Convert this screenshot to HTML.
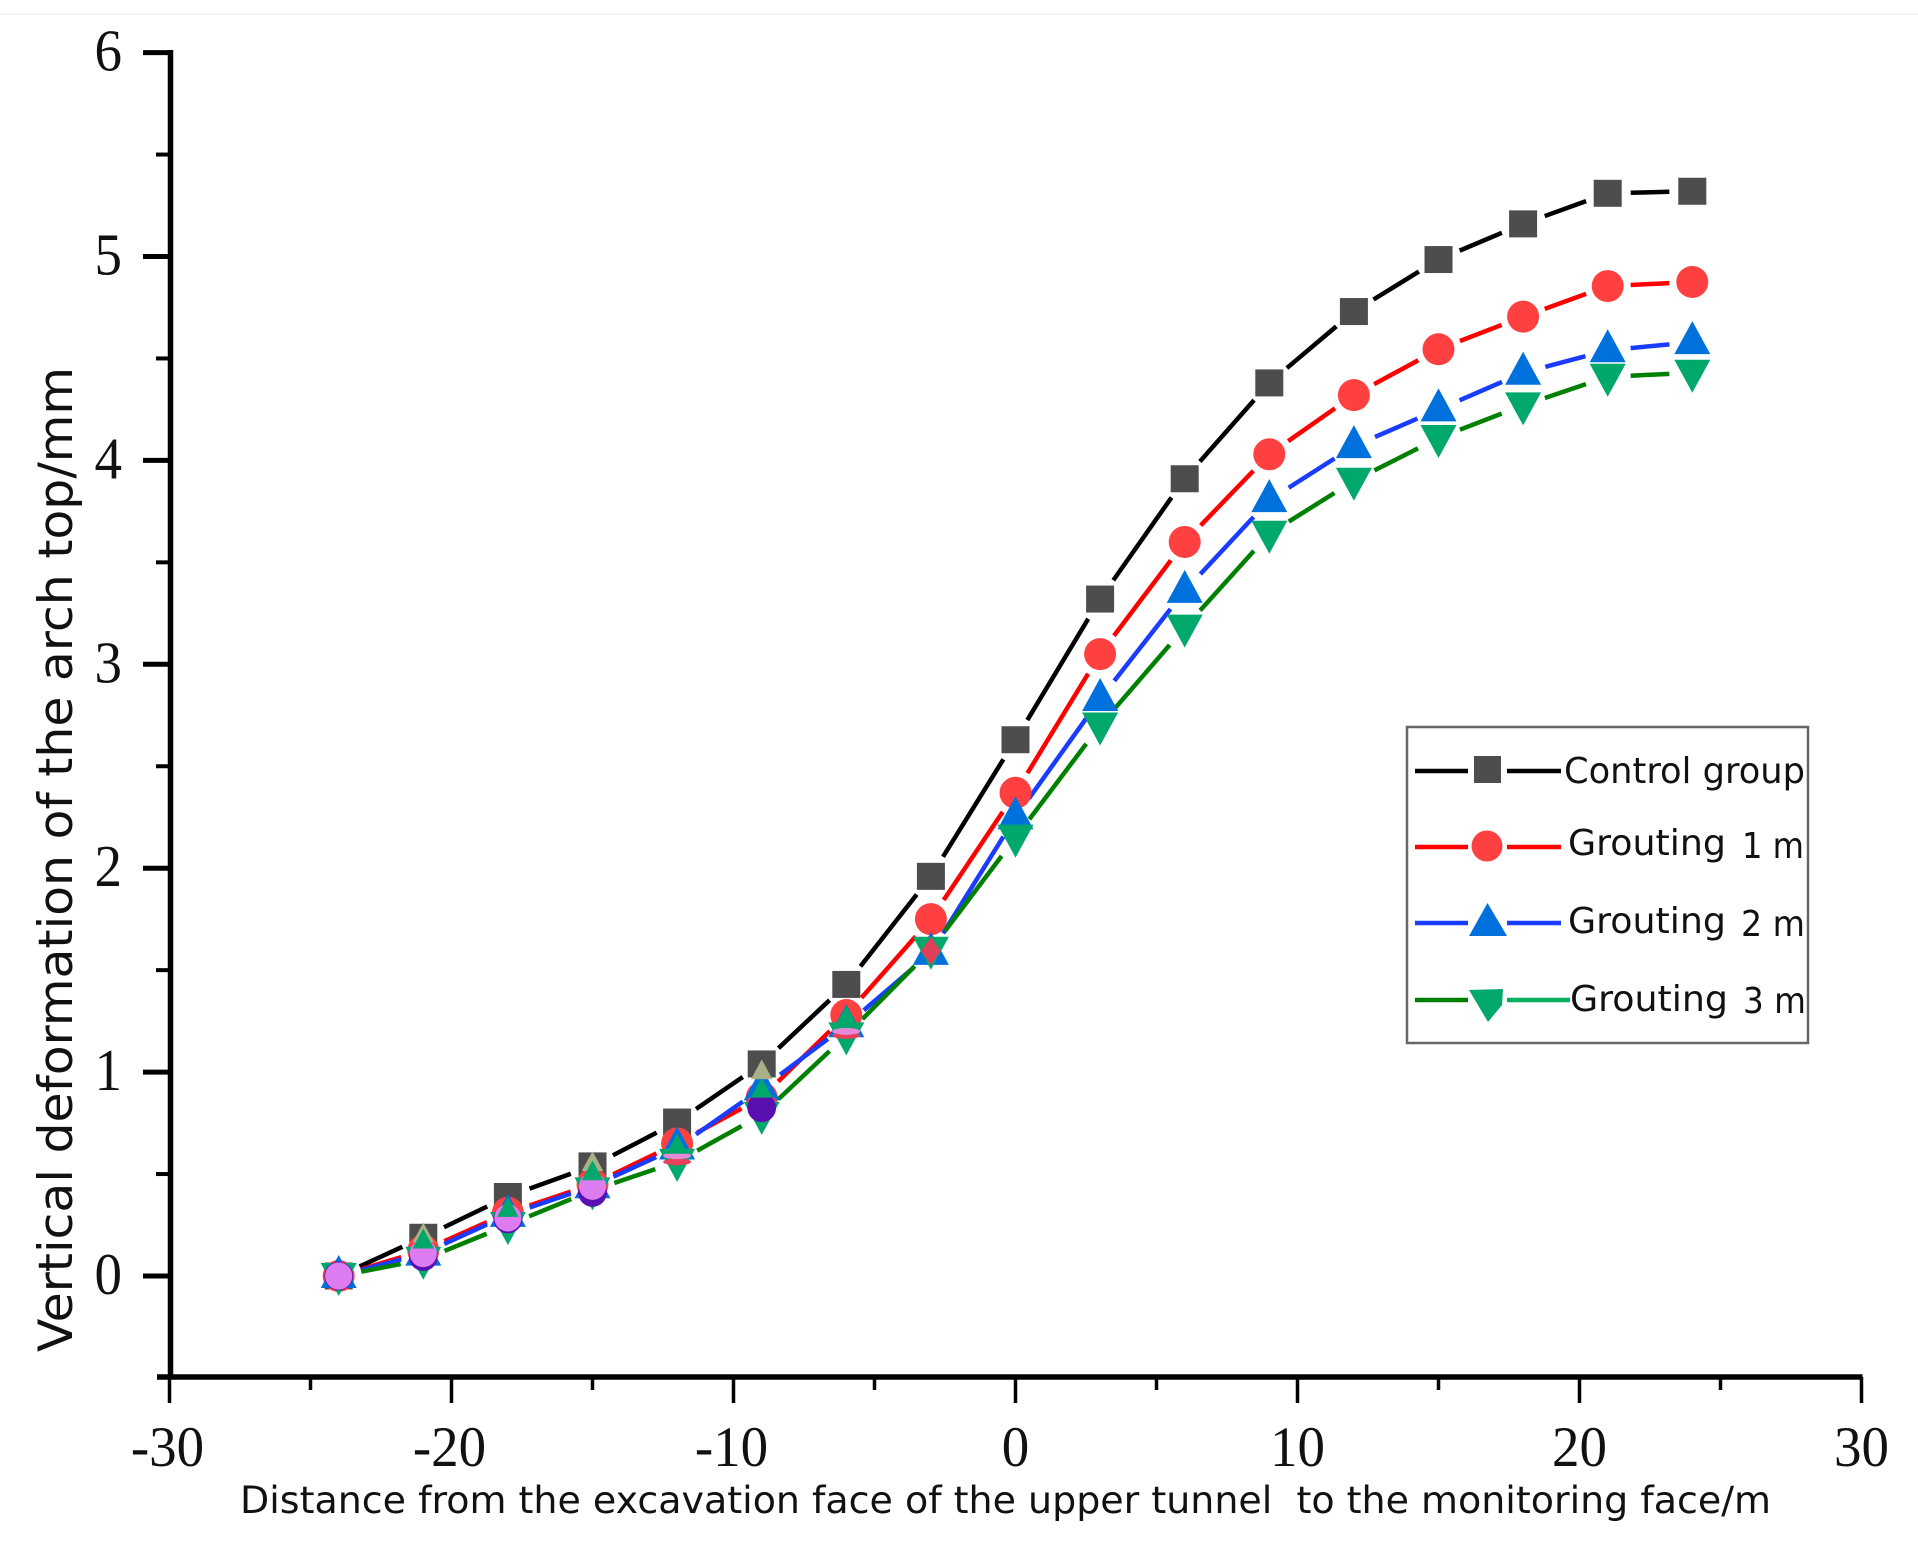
<!DOCTYPE html>
<html lang="en">
<head>
<meta charset="utf-8">
<title>Vertical deformation of the arch top</title>
<style>
html,body{margin:0;padding:0;background:#fff;}
svg{display:block;}
text{white-space:pre;}
.tick{font-family:"Liberation Serif",serif;font-size:55px;fill:#111;}
.title{font-family:"DejaVu Sans",sans-serif;fill:#111;}
</style>
</head>
<body>
<svg id="chart" xmlns="http://www.w3.org/2000/svg" width="1918" height="1547" viewBox="0 0 1918 1547">
  <rect x="0" y="0" width="1918" height="1547" fill="#ffffff"/>
  <line x1="0" y1="14" x2="1918" y2="14" stroke="#f2f2f2" stroke-width="2"/>
  <g id="axes"></g>
  <g id="series"></g>
  <g id="overlay"></g>
  <text class="title" font-size="47" transform="translate(72,1352) rotate(-90)" textLength="985" lengthAdjust="spacingAndGlyphs">Vertical deformation of the arch top/mm</text>
  <text class="title" font-size="37" x="240" y="1513" textLength="1531" lengthAdjust="spacingAndGlyphs">Distance from the excavation face of the upper tunnel  to the monitoring face/m</text>
  <g>
    <rect x="1407" y="727" width="401" height="316" fill="#ffffff" stroke="#666666" stroke-width="2.5"/>
    <g>
      <line x1="1415" y1="771" x2="1468" y2="771" stroke="#000000" stroke-width="4.5"/>
      <line x1="1507" y1="771" x2="1561" y2="771" stroke="#000000" stroke-width="4.5"/>
      <rect x="1474" y="756" width="27" height="27" fill="#4d4d4d"/>
      <text class="title" font-size="36" x="1564" y="783" textLength="241" lengthAdjust="spacingAndGlyphs">Control group</text>
    </g>
    <g>
      <line x1="1415" y1="847" x2="1468" y2="847" stroke="#ff0000" stroke-width="4.5"/>
      <line x1="1507" y1="847" x2="1561" y2="847" stroke="#ff0000" stroke-width="4.5"/>
      <circle cx="1487" cy="846" r="15.5" fill="#ff4040"/>
      <text class="title" font-size="36" x="1568" y="855" textLength="158" lengthAdjust="spacingAndGlyphs">Grouting</text>
      <text class="title" font-size="36" x="1742" y="858" textLength="62" lengthAdjust="spacingAndGlyphs">1 m</text>
    </g>
    <g>
      <line x1="1415" y1="923" x2="1468" y2="923" stroke="#1a3cff" stroke-width="4.5"/>
      <line x1="1507" y1="923" x2="1561" y2="923" stroke="#1a3cff" stroke-width="4.5"/>
      <polygon points="1487.5,903 1507,936 1469,936" fill="#0070dd"/>
      <text class="title" font-size="36" x="1568" y="933" textLength="158" lengthAdjust="spacingAndGlyphs">Grouting</text>
      <text class="title" font-size="36" x="1741" y="936" textLength="64" lengthAdjust="spacingAndGlyphs">2 m</text>
    </g>
    <g>
      <line x1="1415" y1="1000" x2="1468" y2="1000" stroke="#008000" stroke-width="4.5"/>
      <line x1="1507" y1="1000" x2="1570" y2="1000" stroke="#00b060" stroke-width="4.5"/>
      <polygon points="1469,990 1503,989 1502,1005 1488,1022" fill="#00a86b"/>
      <text class="title" font-size="36" x="1570" y="1011" textLength="158" lengthAdjust="spacingAndGlyphs">Grouting</text>
      <text class="title" font-size="36" x="1743" y="1013" textLength="63" lengthAdjust="spacingAndGlyphs">3 m</text>
    </g>
  </g>
</svg>
<script>
// Chart data
const xCategories = [-24,-21,-18,-15,-12,-9,-6,-3,0,3,6,9,12,15,18,21,24];
const controlGroup = [0,0.19,0.39,0.54,0.755,1.04,1.43,1.96,2.63,3.32,3.91,4.38,4.73,4.985,5.16,5.31,5.32];
const grouting1m = [0,0.125,0.31,0.45,0.65,0.875,1.28,1.75,2.37,3.05,3.6,4.03,4.32,4.545,4.705,4.855,4.875];
const grouting2m = [0,0.11,0.3,0.44,0.63,0.92,1.23,1.585,2.25,2.83,3.36,3.805,4.07,4.25,4.43,4.54,4.58];
const grouting3m = [0,0.08,0.25,0.42,0.56,0.79,1.18,1.6,2.15,2.7,3.18,3.64,3.9,4.11,4.27,4.41,4.43];
const overlayGreen = [null,0.17,0.325,0.505,0.635,0.91,1.265,null,null,null,null,null,null,null,null,null,null];
const overlayTan = [null,0.2,null,0.55,null,1.0,null,null,null,null,null,null,null,null,null,null,null];
const overlayIndigo = [0,0.095,0.28,0.41,null,0.825,null,null,null,null,null,null,null,null,null,null,null];
const overlayViolet = [0,0.11,0.285,0.44,null,null,null,null,null,null,null,null,null,null,null,null,null];
const overlayPink = [null,null,null,null,0.59,null,1.2,null,null,null,null,null,null,null,null,null,null];
const overlayRedBand = [null,null,null,null,0.56,0.865,1.18,null,null,null,null,null,null,null,null,null,null];
const overlayDiamond = [null,null,null,null,null,null,null,1.594,null,null,null,null,null,null,null,null,null];
const xMajorTicks = [-30,-20,-10,0,10,20,30];
const xMinorTicks = [-25,-15,-5,5,15,25];
const yMajorTicks = [0,1,2,3,4,5,6];
const yMinorTicks = [0.5,1.5,2.5,3.5,4.5,5.5];

const NS = 'http://www.w3.org/2000/svg';
const xScale = v => 1015.5 + 28.2 * v;
const yScale = v => 1276 - 203.9 * v;
const axes = document.getElementById('axes');
const seriesLayer = document.getElementById('series');
const overlayLayer = document.getElementById('overlay');

function lineEl(parent, name, x1, y1, x2, y2, color, width) {
  const el = document.createElementNS(NS, 'line');
  
  
  el.setAttribute('x1', x1);
  el.setAttribute('y1', y1);
  el.setAttribute('x2', x2);
  el.setAttribute('y2', y2);
  el.setAttribute('stroke', color);
  el.setAttribute('stroke-width', width);
  parent.appendChild(el);
  return el;
}

function tickLabel(name, x, y, anchor, value, stretch) {
  const el = document.createElementNS(NS, 'text');
  
  
  el.setAttribute('class', 'tick');
  el.setAttribute('transform', 'translate(' + x + ',' + y + ') scale(1,' + stretch + ')');
  el.setAttribute('text-anchor', anchor);
  el.textContent = String(value);
  axes.appendChild(el);
}

function marker(parent, name, type, cx, cy, color, k) {
  const s = k === undefined ? 1 : k;
  let el;
  if (type === 'square') {
    el = document.createElementNS(NS, 'rect');
    el.setAttribute('x', cx - 14);
    el.setAttribute('y', cy - 13.5);
    el.setAttribute('width', 28);
    el.setAttribute('height', 27);
  } else if (type === 'circle') {
    el = document.createElementNS(NS, 'ellipse');
    el.setAttribute('cx', cx);
    el.setAttribute('cy', cy);
    el.setAttribute('rx', 16 * s);
    el.setAttribute('ry', 16 * s);
  } else if (type === 'band') {
    el = document.createElementNS(NS, 'ellipse');
    el.setAttribute('cx', cx);
    el.setAttribute('cy', cy);
    el.setAttribute('rx', 14);
    el.setAttribute('ry', 3.5);
  } else if (type === 'diamond') {
    el = document.createElementNS(NS, 'polygon');
    el.setAttribute('points', cx + ',' + (cy - 14) + ' ' + (cx + 10) + ',' + cy + ' ' + cx + ',' + (cy + 14) + ' ' + (cx - 10) + ',' + cy);
  } else {
    const a = type === 'up' ? -21 * s : 20 * s;
    const b = type === 'up' ? 12 * s : -13 * s;
    const w = 18 * s;
    el = document.createElementNS(NS, 'polygon');
    el.setAttribute('points', cx + ',' + (cy + a) + ' ' + (cx + w) + ',' + (cy + b) + ' ' + (cx - w) + ',' + (cy + b));
  }
  
  
  el.setAttribute('fill', color);
  parent.appendChild(el);
}

// Axes
lineEl(axes, 'y-axis-line', 170.5, 50, 170.5, 1379, '#000000', 5.5);
lineEl(axes, 'x-axis-line', 157, 1377, 1862.5, 1377, '#000000', 5.5);
xMajorTicks.forEach(v => {
  lineEl(axes, 'x-major-tick', xScale(v), 1377, xScale(v), 1403, '#000000', 3.5);
  tickLabel('x-tick-label', xScale(v) - (v < 0 ? 2 : 0), 1466, 'middle', v, 1.04);
});
xMinorTicks.forEach(v => {
  lineEl(axes, 'x-minor-tick', xScale(v), 1377, xScale(v), 1390, '#000000', 3.5);
});
yMajorTicks.forEach(v => {
  lineEl(axes, 'y-major-tick', 143, yScale(v), 172, yScale(v), '#000000', 5);
  tickLabel('y-tick-label', 122, yScale(v) + 18, 'end', v, 1.08);
});
yMinorTicks.forEach(v => {
  lineEl(axes, 'y-minor-tick', 156, yScale(v), 172, yScale(v), '#000000', 4);
});

// Series: line segments broken around each symbol
const seriesList = [
  { name: 'control-group', values: controlGroup, line: '#000000', fill: '#4d4d4d', type: 'square' },
  { name: 'grouting-1m', values: grouting1m, line: '#ff0000', fill: '#ff4040', type: 'circle' },
  { name: 'grouting-2m', values: grouting2m, line: '#1a3cff', fill: '#0070dd', type: 'up' },
  { name: 'grouting-3m', values: grouting3m, line: '#008000', fill: '#00a86b', type: 'down' }
];
const GAP = 23;
seriesList.forEach(s => {
  for (let i = 0; i < xCategories.length - 1; i++) {
    const x1 = xScale(xCategories[i]), y1 = yScale(s.values[i]);
    const x2 = xScale(xCategories[i + 1]), y2 = yScale(s.values[i + 1]);
    const d = Math.hypot(x2 - x1, y2 - y1);
    const ux = (x2 - x1) / d, uy = (y2 - y1) / d;
    lineEl(seriesLayer, s.name + '-line-segment', x1 + ux * GAP, y1 + uy * GAP, x2 - ux * GAP, y2 - uy * GAP, s.line, 4.5);
  }
});
seriesList.forEach(s => {
  s.values.forEach((v, i) => {
    marker(seriesLayer, s.name + '-marker', s.type, xScale(xCategories[i]), yScale(v), s.fill);
  });
});

// Overlapping symbols at the low end of the curves
xCategories.forEach((c, i) => {
  const x = xScale(c);
  if (overlayRedBand[i] !== null) marker(overlayLayer, 'overlap-red-band', 'band', x, yScale(overlayRedBand[i]), '#e8405a');
  if (overlayIndigo[i] !== null) marker(overlayLayer, 'overlap-indigo-circle', 'circle', x, yScale(overlayIndigo[i]), '#5a10b0', 0.9);
  if (overlayTan[i] !== null) marker(overlayLayer, 'overlap-tan-triangle', 'up', x, yScale(overlayTan[i]), '#a8b088', 0.6);
  if (overlayViolet[i] !== null) marker(overlayLayer, 'overlap-violet-circle', 'circle', x, yScale(overlayViolet[i]), '#dc7cf0', 0.85);
  if (overlayPink[i] !== null) marker(overlayLayer, 'overlap-pink-band', 'band', x, yScale(overlayPink[i]), '#e48ad8');
  if (overlayGreen[i] !== null) marker(overlayLayer, 'overlap-green-triangle', 'up', x, yScale(overlayGreen[i]), '#00a86b', 0.6);
  if (overlayDiamond[i] !== null) marker(overlayLayer, 'overlap-red-diamond', 'diamond', x, yScale(overlayDiamond[i]), '#e0405a');
});
</script>
</body>
</html>
